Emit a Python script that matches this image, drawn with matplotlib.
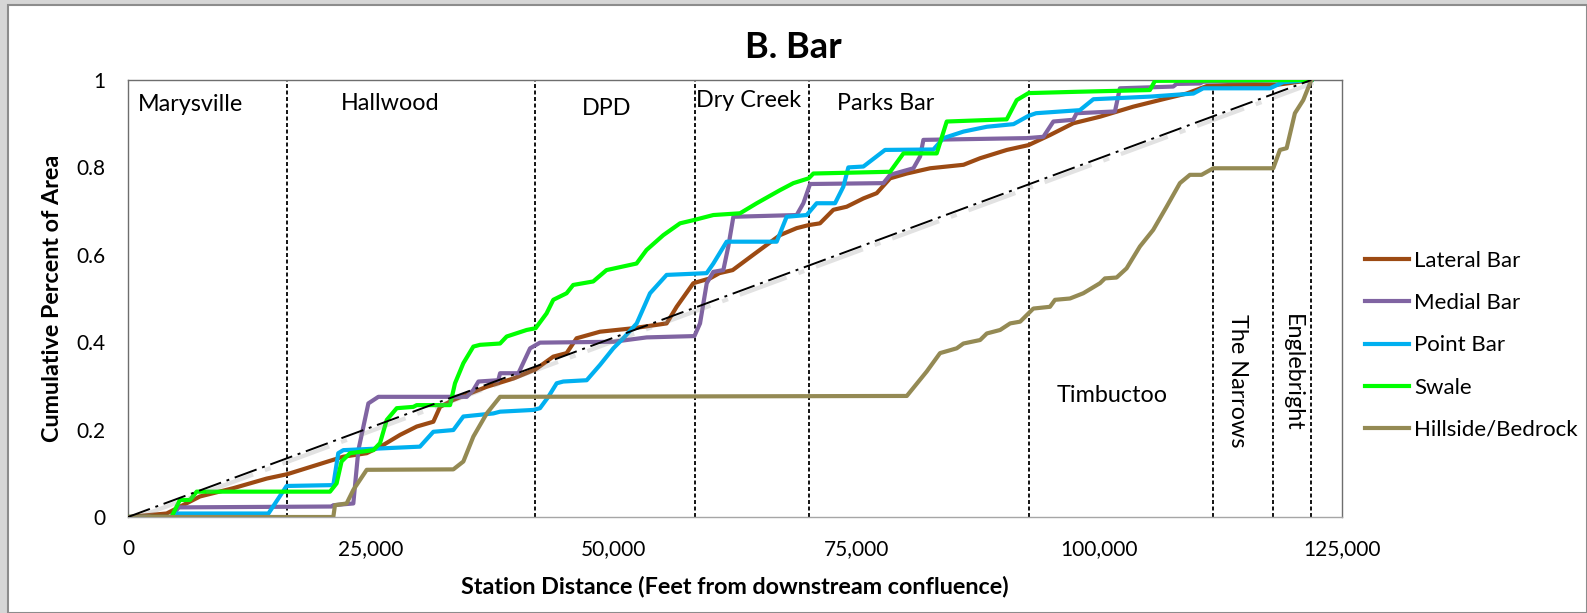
import matplotlib
matplotlib.use("Agg")
import matplotlib.pyplot as plt
import matplotlib.transforms as mtransforms
from matplotlib.patches import Rectangle

plt.rcParams['font.family'] = ['Lato', 'DejaVu Sans']

# station distance (ft) and cumulative fraction of area
lateral_x = [0, 3980, 7410, 10850, 14290, 16400, 19430, 22170, 24580, 26300,
             28020, 29730, 31440, 32130, 33500, 36940, 39690, 41970, 43790, 45160,
             46190, 48600, 52030, 55460, 56490, 58210, 59920, 60890, 62260, 64380,
             67130, 68850, 70090, 71250, 72630, 74000, 75720, 77090, 78470, 80190,
             82590, 86030, 87740, 90490, 92720, 94930, 97330, 100080, 103510, 106940,
             109000, 111060, 113810, 118270, 119300, 121840]
lateral_y = [0, 0.008, 0.047, 0.066, 0.088, 0.098, 0.119, 0.138, 0.146, 0.165,
             0.188, 0.207, 0.218, 0.252, 0.268, 0.298, 0.317, 0.338, 0.367, 0.375,
             0.409, 0.424, 0.432, 0.443, 0.481, 0.535, 0.546, 0.558, 0.565, 0.600,
             0.645, 0.661, 0.668, 0.672, 0.703, 0.710, 0.729, 0.741, 0.775, 0.786,
             0.798, 0.806, 0.821, 0.840, 0.851, 0.874, 0.901, 0.916, 0.939, 0.958,
             0.969, 0.986, 0.989, 0.989, 0.992, 1.0]

medial_x = [0, 4500, 5200, 21000, 21140, 23200, 23720, 24750, 25780, 34880,
            35570, 36080, 38130, 38310, 40200, 41400, 42420, 49970, 53410, 58320,
            58900, 59590, 60270, 61300, 61810, 62330, 68850, 69540, 70230, 77780,
            78470, 80870, 81560, 81900, 92550, 94250, 95280, 97330, 97670, 101620,
            102130, 107620, 107960, 110370, 110710, 121840]
medial_y = [0, 0, 0.022, 0.024, 0.027, 0.031, 0.153, 0.260, 0.275, 0.275,
            0.291, 0.310, 0.313, 0.329, 0.329, 0.386, 0.399, 0.401, 0.411, 0.414,
            0.443, 0.535, 0.561, 0.565, 0.619, 0.687, 0.691, 0.718, 0.762, 0.764,
            0.783, 0.798, 0.825, 0.863, 0.867, 0.870, 0.905, 0.909, 0.924, 0.928,
            0.981, 0.985, 0.991, 0.992, 0.996, 1.0]

point_x = [0, 4400, 5000, 14460, 16330, 21140, 21650, 22170, 30060, 31440,
           33500, 34530, 37620, 38310, 41740, 42420, 43280, 44140, 44820, 47230,
           48600, 49970, 51000, 52380, 53750, 55460, 59580, 60270, 61640, 66790,
           67820, 69880, 70910, 72800, 73660, 74170, 75720, 77950, 82930, 83960,
           86030, 88430, 91180, 92720, 93500, 98010, 99400, 105240, 109700, 110710,
           117580, 118950, 121840]
point_y = [0, 0, 0.008, 0.008, 0.071, 0.073, 0.146, 0.153, 0.161, 0.195,
           0.199, 0.230, 0.237, 0.241, 0.245, 0.249, 0.275, 0.306, 0.310, 0.313,
           0.348, 0.386, 0.409, 0.443, 0.512, 0.554, 0.558, 0.580, 0.630, 0.630,
           0.687, 0.691, 0.718, 0.718, 0.756, 0.800, 0.802, 0.840, 0.841, 0.867,
           0.882, 0.893, 0.899, 0.918, 0.924, 0.931, 0.956, 0.962, 0.969, 0.981,
           0.981, 0.995, 1.0]

swale_x = [0, 4480, 5340, 6380, 7070, 20800, 21480, 21990, 22850, 25260,
           25950, 26640, 27670, 29380, 29730, 33160, 33670, 34530, 35560, 36250,
           38310, 38990, 41050, 41970, 43100, 43790, 45160, 45840, 47900, 49270,
           52360, 53390, 55120, 56840, 58350, 60270, 63020, 64740, 67140, 68510,
           70090, 70570, 78470, 79840, 83270, 84300, 90480, 91510, 92720, 97670,
           105220, 105740, 121840]
swale_y = [0, 0, 0.039, 0.039, 0.058, 0.058, 0.077, 0.127, 0.146, 0.153,
           0.169, 0.222, 0.249, 0.252, 0.256, 0.256, 0.306, 0.352, 0.390, 0.394,
           0.397, 0.413, 0.428, 0.432, 0.466, 0.497, 0.512, 0.531, 0.539, 0.565,
           0.580, 0.611, 0.645, 0.672, 0.680, 0.691, 0.695, 0.718, 0.748, 0.764,
           0.775, 0.786, 0.790, 0.832, 0.832, 0.905, 0.910, 0.954, 0.970, 0.973,
           0.977, 0.998, 1.0]

hill_x = [0, 21140, 21310, 22510, 23200, 24580, 33500, 34530, 35560, 36940,
          38310, 80190, 82240, 83610, 85330, 86020, 87740, 88430, 89800, 90830,
          91860, 92720, 93220, 94930, 95450, 96990, 98360, 100080, 100590, 101790,
          102820, 104190, 105560, 106940, 108310, 109340, 110540, 111740, 117920, 118610,
          119300, 120150, 121010, 121840]
hill_y = [0, 0, 0.027, 0.031, 0.062, 0.108, 0.109, 0.127, 0.184, 0.237,
          0.275, 0.277, 0.333, 0.375, 0.386, 0.397, 0.405, 0.420, 0.428, 0.443,
          0.447, 0.466, 0.477, 0.481, 0.497, 0.500, 0.512, 0.535, 0.546, 0.548,
          0.569, 0.619, 0.657, 0.710, 0.764, 0.783, 0.783, 0.798, 0.798, 0.840,
          0.844, 0.924, 0.954, 1.0]

# reach boundaries (ft) and reach names
boundaries = [16400, 41950, 58350, 70100, 92800, 111750, 117850, 121840]
reaches = ["Marysville", "Hallwood", "DPD", "Dry Creek", "Parks Bar",
           "Timbuctoo", "The Narrows", "Englebright"]

series = [
    ("Lateral Bar", lateral_x, lateral_y, "#9c4a13"),
    ("Medial Bar", medial_x, medial_y, "#8064a2"),
    ("Point Bar", point_x, point_y, "#00b0f0"),
    ("Swale", swale_x, swale_y, "#00ff00"),
    ("Hillside/Bedrock", hill_x, hill_y, "#948a54"),
]

W, H = 1587, 613
fig = plt.figure(figsize=(W / 100, H / 100), dpi=100, facecolor="#d6d6d6")
fig.patches.append(Rectangle((8 / W, 0), 1 - 8 / W, 1 - 5 / H, transform=fig.transFigure,
                             facecolor="white", edgecolor="#8c8c8c", lw=1.5, zorder=-10))

ax = fig.add_axes([128 / W, 1 - 517 / H, (1342 - 128) / W, (517 - 80) / H])
ax.set_xlim(0, 125000)
ax.set_ylim(0, 1)

for xb in boundaries:
    ax.axvline(xb, color="black", lw=1.3, dashes=(2.2, 1.4), zorder=2)

for name, xs, ys, c in series:
    ax.plot(xs, ys, color=c, lw=3.0, label=name, zorder=3)

# 1:1 reference line with a soft shadow
end = boundaries[-1]
shadow = mtransforms.offset_copy(ax.transData, fig=fig, x=2, y=-3, units="dots")
ax.plot([0, end], [0, 1], color="0.55", lw=3, alpha=0.25, transform=shadow, zorder=3.5,
        dashes=(12, 3, 1.5, 3))
ax.plot([0, end], [0, 1], color="black", lw=1.4, dashes=(12, 3, 1.5, 3), zorder=4)

# reach labels
lab_pos = [(6470, 0.943), (26980, 0.947), (49320, 0.934), (63940, 0.952), (78050, 0.947),
           (101320, 0.279)]
for (lx, ly), name in zip(lab_pos, reaches[:6]):
    ax.text(lx, ly, name, ha="center", va="center", fontsize=16.8, zorder=5)
ax.text(114190, 0.311, reaches[6], rotation=-90, ha="center", va="center", fontsize=16.8)
ax.text(119860, 0.330, reaches[7], rotation=-90, ha="center", va="center", fontsize=16.8)

ax.set_xticks([0, 25000, 50000, 75000, 100000, 125000])
ax.set_xticklabels(["0", "25,000", "50,000", "75,000", "100,000", "125,000"])
ax.set_yticks([0, 0.2, 0.4, 0.6, 0.8, 1])
ax.set_yticklabels(["0", "0.2", "0.4", "0.6", "0.8", "1"])
ax.tick_params(length=0, labelsize=15, pad=16)
for s in ax.spines.values():
    s.set_color("#6e6e6e")
    s.set_linewidth(1)
ax.spines["bottom"].set_color("#a6a6a6")

ax.set_xlabel("Station Distance (Feet from downstream confluence)", fontsize=16.8,
              fontweight="bold", labelpad=12)
ax.set_ylabel("Cumulative Percent of Area", fontsize=16.8, fontweight="bold", labelpad=10)
fig.text(0.5, 1 - 47 / H, "B. Bar", ha="center", va="center", fontsize=26, fontweight="bold")

ax.legend(loc="upper left", bbox_to_anchor=(1365 / W, 1 - 251 / H),
          bbox_transform=fig.transFigure, frameon=False, fontsize=16,
          handlelength=2.0, handletextpad=0.2, labelspacing=1.0, borderpad=0,
          borderaxespad=0)

fig.savefig("out.png", dpi=100, facecolor=fig.get_facecolor())
